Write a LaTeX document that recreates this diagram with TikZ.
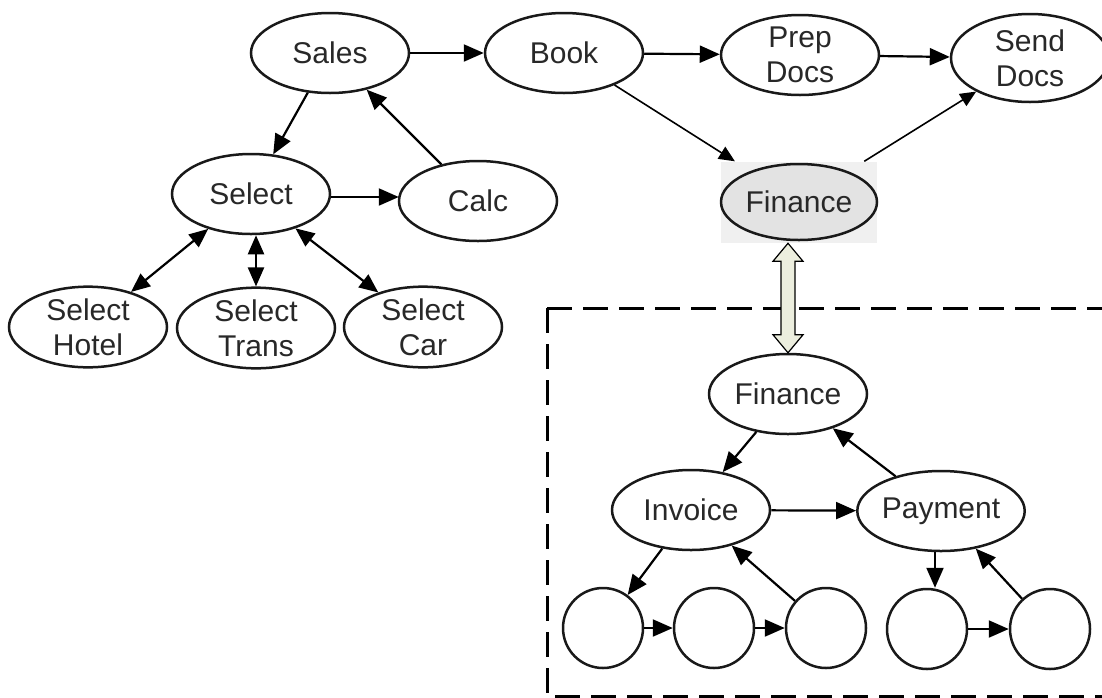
\documentclass[tikz,border=0pt]{standalone}
\usepackage{fontspec}
\setmainfont{Liberation Sans}
\usetikzlibrary{shapes.geometric,arrows.meta,calc}
\definecolor{txt}{RGB}{40,40,40}
\definecolor{hollow}{RGB}{236,238,222}
\begin{document}
\begin{tikzpicture}[x=1pt,y=-1pt,
  proc/.style={ellipse,draw=black!90,line width=2.5pt,minimum width=158pt,minimum height=80pt,inner sep=0pt,font=\fontsize{30}{35}\selectfont,text=txt,align=center},
  leaf/.style={circle,draw=black!90,line width=2.5pt,minimum size=80pt,inner sep=0pt},
  arr/.style={line width=2.2pt,-{Triangle[length=20pt,width=17pt]}},
  darr/.style={line width=2.2pt,{Triangle[length=19pt,width=16pt]}-{Triangle[length=19pt,width=16pt]}},
  thinarr/.style={line width=1.6pt,-{Triangle[length=16pt,width=14pt]}},
  boxline/.style={line width=3pt,dash pattern=on 25pt off 11pt}]
\useasboundingbox (0,0) rectangle (1102,697);
% top row
\node[proc] (sales) at (330,53) {Sales};
\node[proc] (book) at (564,53) {Book};
\node[proc] (prep) at (800,55) {Prep\\Docs};
\node[proc,minimum height=88pt] (send) at (1030,58) {Send\\Docs};
% second row
\node[proc] (select) at (251,194) {Select};
\node[proc] (calc) at (478,201) {Calc};
\node[fill=gray!12,minimum width=156pt,minimum height=81pt,inner sep=0pt] (fingbox) at (799,202) {};
\node[proc,fill=gray!22,minimum width=156pt,minimum height=76pt] (fing) at (799,202) {Finance};
% third row
\node[proc] (hotel) at (88,327) {Select\\Hotel};
\node[proc] (trans) at (256,328) {Select\\Trans};
\node[proc] (car) at (423,327) {Select\\Car};
% dashed box
\draw[boxline] (547,308) -- (1110,308);
\draw[boxline] (547,308) -- (547,696) -- (1110,696);
% finance detail
\node[proc] (fin2) at (788,394) {Finance};
\node[proc] (invoice) at (691,510) {Invoice};
\node[proc] (payment) at (941,511) {Payment};
\node[leaf] (c1) at (603,628) {};
\node[leaf] (c2) at (714,628) {};
\node[leaf] (c3) at (826,628) {};
\node[leaf] (c4) at (927,629) {};
\node[leaf] (c5) at (1050,629) {};
% connectors
\draw[arr] (sales) -- (book);
\draw[arr] (book) -- (prep);
\draw[arr] (prep) -- (send);
\draw[arr] (sales) -- (select);
\draw[arr] (calc) -- (sales);
\draw[arr] ($(select.east)+(0,3)$) -- ($(select.east -| calc.west)+(1,3)$);
\draw[darr] (select) -- (hotel);
\draw[darr] (select.south -| trans.north) -- (trans.north);
\draw[darr] (select) -- (car);
\draw[thinarr] (book) -- (fingbox);
\draw[thinarr] (fingbox) -- (send);
\draw[arr] (fin2) -- (invoice);
\draw[arr] (payment) -- (fin2);
\draw[arr] (invoice) -- (payment);
\draw[arr] (invoice) -- (c1);
\draw[arr] (c3) -- (invoice);
\draw[arr] (c1) -- (c2);
\draw[arr] (c2) -- (c3);
\draw[arr] ($(payment.south)+(-6,0)$) -- ($(c4.north)+(8,0)$);
\draw[arr] (c5) -- (payment);
\draw[arr] (c4) -- (c5);
% hollow double arrow
\coordinate (ht) at ($(fing.south -| fin2.north)+(0,2)$);
\coordinate (hb) at (fin2.north);
\draw[line width=1.2pt,fill=hollow] (ht) -- ($(ht)+(15,18)$) -- ($(ht)+(7,18)$) -- ($(hb)+(7,-18)$) -- ($(hb)+(15,-18)$) -- (hb) -- ($(hb)+(-15,-18)$) -- ($(hb)+(-7,-18)$) -- ($(ht)+(-7,18)$) -- ($(ht)+(-15,18)$) -- cycle;
\end{tikzpicture}
\end{document}
